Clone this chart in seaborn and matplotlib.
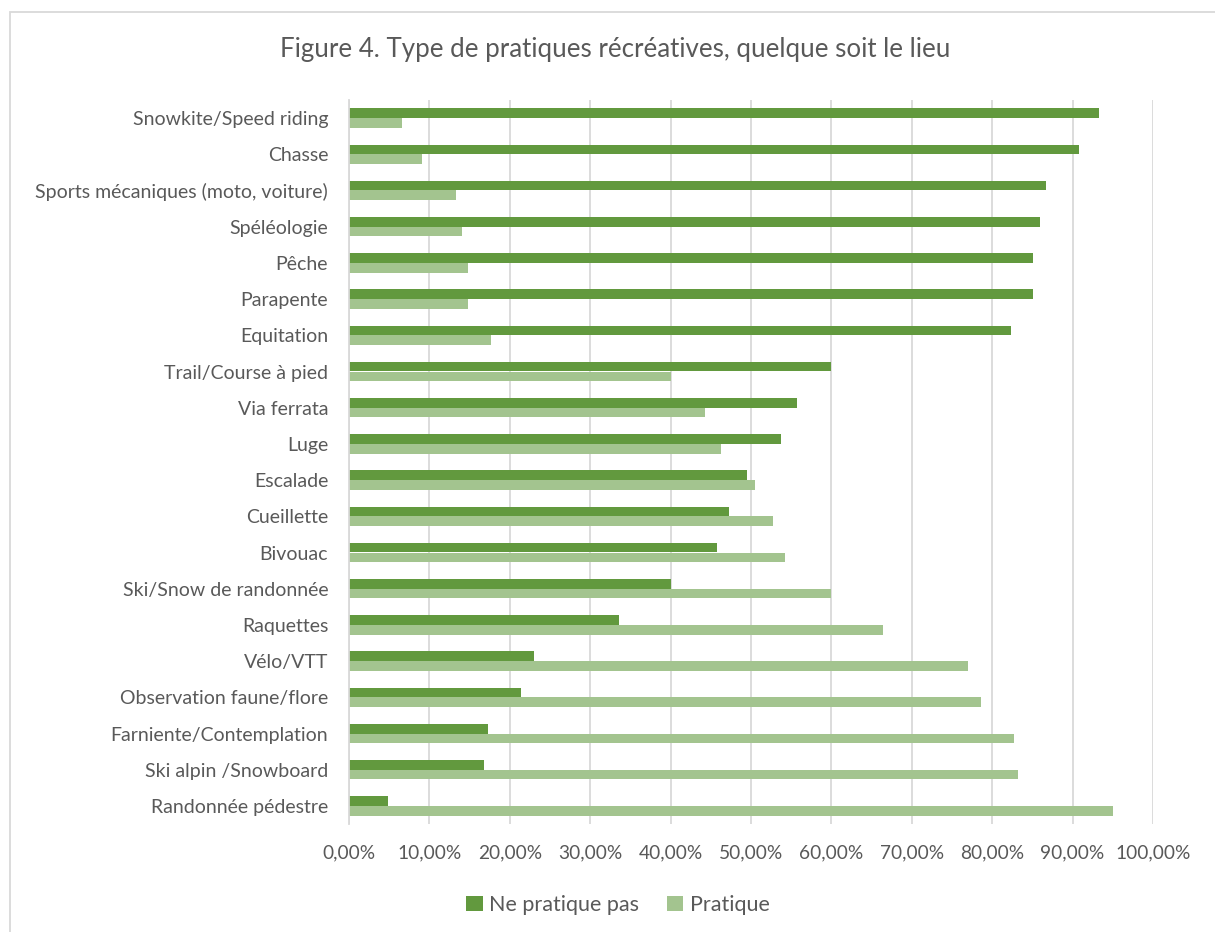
import pandas as pd
import matplotlib
matplotlib.use("Agg")
import matplotlib.pyplot as plt
from matplotlib.patches import Rectangle, Patch
from matplotlib.ticker import FuncFormatter, MultipleLocator
import seaborn as sns

# Données (en %)
activites = [
    "Snowkite/Speed riding", "Chasse", "Sports mécaniques (moto, voiture)",
    "Spéléologie", "Pêche", "Parapente", "Equitation", "Trail/Course à pied",
    "Via ferrata", "Luge", "Escalade", "Cueillette", "Bivouac",
    "Ski/Snow de randonnée", "Raquettes", "Vélo/VTT",
    "Observation faune/flore", "Farniente/Contemplation",
    "Ski alpin /Snowboard", "Randonnée pédestre",
]
ne_pratique_pas = [93.3, 90.8, 86.7, 86.0, 85.1, 85.1, 82.3, 60.0, 55.7, 53.7,
                   49.5, 47.3, 45.8, 40.0, 33.6, 23.0, 21.4, 17.3, 16.8, 4.9]
pratique = [6.6, 9.1, 13.3, 14.0, 14.8, 14.8, 17.7, 40.0, 44.3, 46.3,
            50.5, 52.7, 54.2, 60.0, 66.4, 77.0, 78.6, 82.7, 83.2, 95.0]
series = ["Ne pratique pas", "Pratique"]
couleurs = ["#62993E", "#A3C48F"]
titre = "Figure 4. Type de pratiques récréatives, quelque soit le lieu"

df = pd.DataFrame({
    "activite": activites * 2,
    "valeur": [v / 100 for v in ne_pratique_pas + pratique],
    "serie": [series[0]] * len(activites) + [series[1]] * len(activites),
})

sns.set_style("white")
plt.rcParams["font.family"] = ["Lato", "DejaVu Sans"]
gris = "#595959"

fig = plt.figure(figsize=(12.15, 9.32), dpi=100)
ax = fig.add_axes([349 / 1215, 1 - 824 / 932, (1153 - 349) / 1215, (824 - 100) / 932])

sns.barplot(data=df, x="valeur", y="activite", hue="serie", order=activites,
            hue_order=series, palette=couleurs, orient="h", width=0.54,
            gap=0, saturation=1, legend=False, ax=ax, linewidth=0)

ax.set_xlim(0, 1)
ax.xaxis.set_major_locator(MultipleLocator(0.1))
ax.xaxis.set_major_formatter(FuncFormatter(lambda v, p: f"{v * 100:.2f}%".replace(".", ",")))
ax.grid(axis="x", color="#D9D9D9", lw=1.3)
ax.set_axisbelow(True)
for s in ["top", "right", "bottom"]:
    ax.spines[s].set_visible(False)
ax.spines["left"].set_color("#D9D9D9")
ax.spines["left"].set_linewidth(1.3)
ax.tick_params(axis="y", length=0, pad=15, labelsize=14, labelcolor=gris)
ax.tick_params(axis="x", length=0, pad=15, labelsize=13.8, labelcolor=gris)
ax.set_xlabel("")
ax.set_ylabel("")

fig.text(615 / 1215, 1 - 50 / 932, titre, ha="center", va="center",
         fontsize=18.6, color=gris)

handles = [Patch(facecolor=c, edgecolor="none") for c in couleurs]
fig.legend(handles, series, loc="center", bbox_to_anchor=(618 / 1215, 1 - 905 / 932),
           ncol=2, frameon=False, fontsize=15.5, labelcolor=gris,
           handlelength=0.75, handleheight=0.75, handletextpad=0.3, columnspacing=1.3)

fig.add_artist(Rectangle((10 / 1215, -0.1), 1.2, 1.1 - 12 / 932, transform=fig.transFigure,
                         fill=False, edgecolor="#D9D9D9", lw=1.3))

fig.savefig("out.png", dpi=100)
